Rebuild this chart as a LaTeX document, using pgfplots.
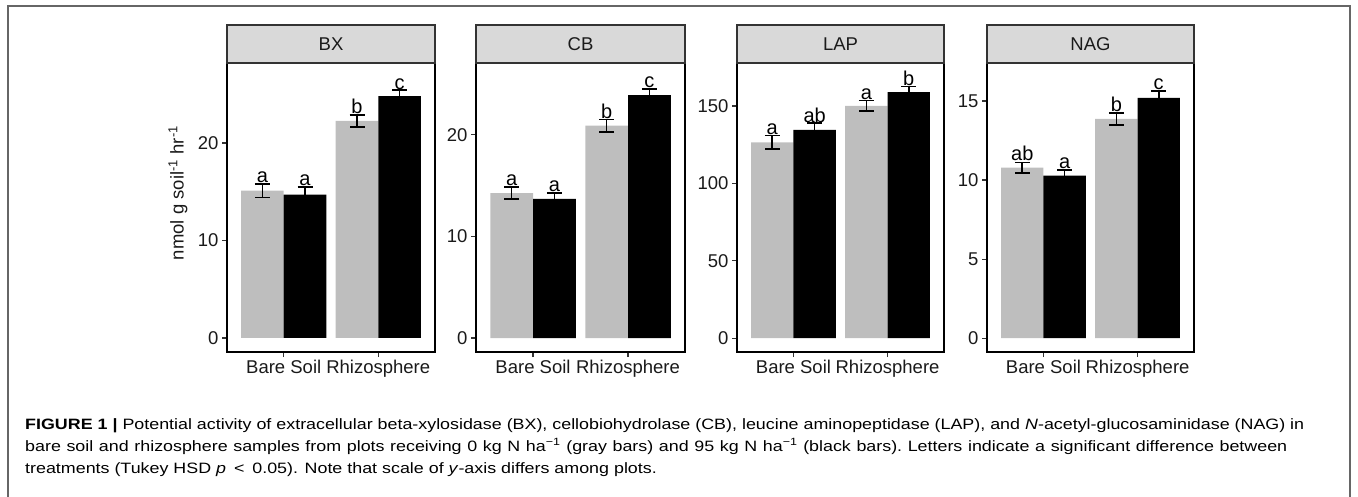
\documentclass[border=0pt]{standalone}
\usepackage{fontspec}
\setmainfont{Liberation Sans}
\usepackage{graphicx}
\usepackage{pgfplots}
\pgfplotsset{compat=1.18}
\definecolor{barg}{HTML}{BEBEBE}
\definecolor{stripg}{HTML}{D9D9D9}
\definecolor{stripb}{HTML}{333333}
\definecolor{frameg}{HTML}{666666}
\definecolor{txt}{HTML}{1A1A1A}
\newcommand\tfont{\fontsize{18.5pt}{22pt}\selectfont}
\newcommand\lfont{\fontsize{20pt}{22pt}\selectfont}
\newcommand\capfont{\fontsize{15pt}{18pt}\selectfont}
\pgfplotsset{
  panel/.style={
    scale only axis, height=289pt, anchor=south west,
    xmin=0.4, xmax=2.6, xtick={1,2}, xticklabels={Bare Soil,Rhizosphere},
    tick pos=left, tick align=outside, major tick length=5pt,
    major tick style={line width=1.2pt, color=stripb},
    axis line style={line width=1.6pt, black},
    tick label style={font=\tfont, text=txt},
    /pgf/number format/assume math mode=true,
    clip=false,
  },
  gbar/.style={ybar, bar width=0.45, bar shift=-0.225, fill=barg, draw=none},
  kbar/.style={ybar, bar width=0.45, bar shift=0.225, fill=black, draw=none},
  ebar/.style={draw=none, mark=none,
    error bars/y dir=both, error bars/y explicit,
    error bars/error bar style={line width=1.6pt, black},
    error bars/error mark options={rotate=90, mark size=7.5pt, line width=1.6pt, black}},
  lett/.style={draw=none, nodes near coords, point meta=explicit symbolic,
    nodes near coords style={anchor=base, inner sep=0pt, yshift=1.2pt, font=\lfont, text=black}},
}
\newcommand\facetstrip[1]{%
  \draw[fill=stripg, draw=stripb, line width=1.5pt] (rel axis cs:0,1) rectangle (rel axis cs:1,1.1315);
  \node[font=\tfont, text=txt] at (rel axis cs:0.5,1.0657) {#1};}
\newsavebox\capA
\newsavebox\capB
\newsavebox\capC
\newlength\lineAw
\newlength\lineBw
\begin{document}
\sbox\capA{\capfont\textbf{FIGURE 1 |} Potential activity of extracellular beta-xylosidase (BX), cellobiohydrolase (CB), leucine aminopeptidase (LAP), and \textit{N}-acetyl-glucosaminidase (NAG) in}%
\setlength\lineAw{\wd\capA}%
\setlength\lineBw{0.98671\lineAw}%
\pgfmathsetmacro\capf{1279/\the\lineAw}%
\sbox\capB{\capfont\spaceskip=\fontdimen2\font plus 1fil\relax\xspaceskip=\spaceskip
  \hbox to \lineBw{bare soil and rhizosphere samples from plots receiving 0 kg N ha\textsuperscript{−1} (gray bars) and 95 kg N ha\textsuperscript{−1} (black bars). Letters indicate a significant difference between}}%
\sbox\capC{\capfont treatments (Tukey HSD \textit{p} \,<\, 0.05). Note that scale of \textit{y}-axis differs among plots.}%
\begin{tikzpicture}
\path[use as bounding box] (0,0) rectangle (1358pt,496pt);
\draw[frameg, line width=1.2pt] (8pt,-2pt) -- (8pt,490pt) -- (1350pt,490pt) -- (1350pt,-2pt);

% BX
\begin{axis}[panel, at={(227pt,144pt)}, width=208pt, ymin=-1.44, ymax=28.2, ytick={0,10,20}]
\addplot[gbar] coordinates {(1,15.1) (2,22.26)};
\addplot[kbar] coordinates {(1,14.7) (2,24.8)};
\addplot[ebar] coordinates {(0.775,15.1) +- (0,0.7) (1.775,22.26) +- (0,0.6) (1.225,14.7) +- (0,0.8) (2.225,24.8) +- (0,0.6)};
\addplot[lett] coordinates {(0.775,15.8)[a] (1.225,15.5)[a] (1.775,22.87)[b] (2.225,25.4)[c]};
\facetstrip{BX}
\end{axis}

% CB
\begin{axis}[panel, at={(476pt,144pt)}, width=209pt, ymin=-1.37, ymax=27.07, ytick={0,10,20}]
\addplot[gbar] coordinates {(1,14.26) (2,20.9)};
\addplot[kbar] coordinates {(1,13.7) (2,23.9)};
\addplot[ebar] coordinates {(0.775,14.26) +- (0,0.6) (1.775,20.9) +- (0,0.6) (1.225,13.7) +- (0,0.6) (2.225,23.9) +- (0,0.6)};
\addplot[lett] coordinates {(0.775,14.9)[a] (1.225,14.3)[a] (1.775,21.5)[b] (2.225,24.5)[c]};
\facetstrip{CB}
\end{axis}

% LAP
\begin{axis}[panel, at={(737pt,144pt)}, width=207pt, ymin=-8.9, ymax=177.8, ytick={0,50,100,150}]
\addplot[gbar] coordinates {(1,126.6) (2,150.1)};
\addplot[kbar] coordinates {(1,134.6) (2,159.0)};
\addplot[ebar] coordinates {(0.775,126.6) +- (0,4.4) (1.775,150.1) +- (0,3.4) (1.225,134.6) +- (0,4.3) (2.225,159.0) +- (0,3.6)};
\addplot[lett] coordinates {(0.775,131.0)[a] (1.225,138.9)[ab] (1.775,153.5)[a] (2.225,162.6)[b]};
\facetstrip{LAP}
\end{axis}

% NAG
\begin{axis}[panel, at={(987pt,144pt)}, width=207pt, ymin=-0.87, ymax=17.4, ytick={0,5,10,15}]
\addplot[gbar] coordinates {(1,10.79) (2,13.86)};
\addplot[kbar] coordinates {(1,10.28) (2,15.2)};
\addplot[ebar] coordinates {(0.775,10.79) +- (0,0.33) (1.775,13.86) +- (0,0.38) (1.225,10.28) +- (0,0.36) (2.225,15.2) +- (0,0.44)};
\addplot[lett] coordinates {(0.775,11.14)[ab] (1.225,10.64)[a] (1.775,14.24)[b] (2.225,15.65)[c]};
\facetstrip{NAG}
\end{axis}

\node[rotate=90, font=\tfont, text=txt] at (178pt,303pt) {nmol g soil\textsuperscript{-1} hr\textsuperscript{-1}};

\node[anchor=base west, inner sep=0pt, text=txt] at (25pt,67pt) {\scalebox{\capf}[1]{\usebox\capA}};
\node[anchor=base west, inner sep=0pt, text=txt] at (25pt,45pt) {\scalebox{\capf}[1]{\usebox\capB}};
\node[anchor=base west, inner sep=0pt, text=txt] at (25pt,23pt) {\scalebox{\capf}[1]{\usebox\capC}};
\end{tikzpicture}
\end{document}
